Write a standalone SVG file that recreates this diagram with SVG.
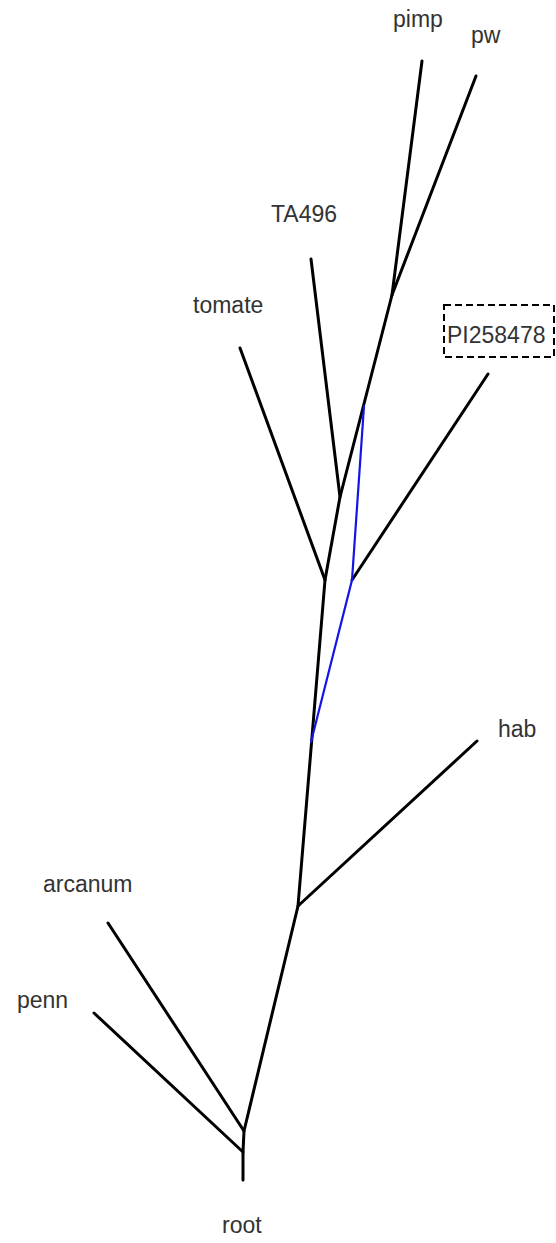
<svg xmlns="http://www.w3.org/2000/svg" width="556" height="1243" viewBox="0 0 556 1243">
<style>
text{font-family:"Liberation Sans",Arial,sans-serif;font-size:23px;fill:#333}
.e{stroke:#000;stroke-width:3;fill:none;stroke-linecap:round;stroke-linejoin:round}
.b{stroke:#1414e6;stroke-width:2.2;fill:none;stroke-linecap:round}
.box{fill:none;stroke:#000;stroke-width:2;stroke-dasharray:7,4}
</style>
<rect width="556" height="1243" fill="#fff"/>
<g id="connectors">
<path class="e" d="M422,61 L392,295"/>
<path class="e" d="M476,76 L392,295 L340,497 L325,580 L298,906 L244,1131 L243,1152 L243,1180"/>
<path class="e" d="M311,259 L340,497"/>
<path class="e" d="M240,348 L325,580"/>
<path class="e" d="M488,374 L352,580"/>
<path class="e" d="M477,741 L298,906"/>
<path class="e" d="M108,923 L244,1131"/>
<path class="e" d="M94,1013 L243,1152"/>
<path class="b" d="M364,406 L352,580 L311,742"/>
</g>
<g id="pimp"><text x="393" y="27">pimp</text></g>
<g id="pw"><text x="471" y="43">pw</text></g>
<g id="TA496"><text x="271" y="222">TA496</text></g>
<g id="tomate"><text x="193" y="313">tomate</text></g>
<g id="PI258478"><rect class="box" x="444" y="305" width="110" height="52"/><text x="447" y="343">PI258478</text></g>
<g id="hab"><text x="498" y="737">hab</text></g>
<g id="arcanum"><text x="43" y="892">arcanum</text></g>
<g id="penn"><text x="17" y="1008">penn</text></g>
<g id="root"><text x="222" y="1233">root</text></g>
</svg>
